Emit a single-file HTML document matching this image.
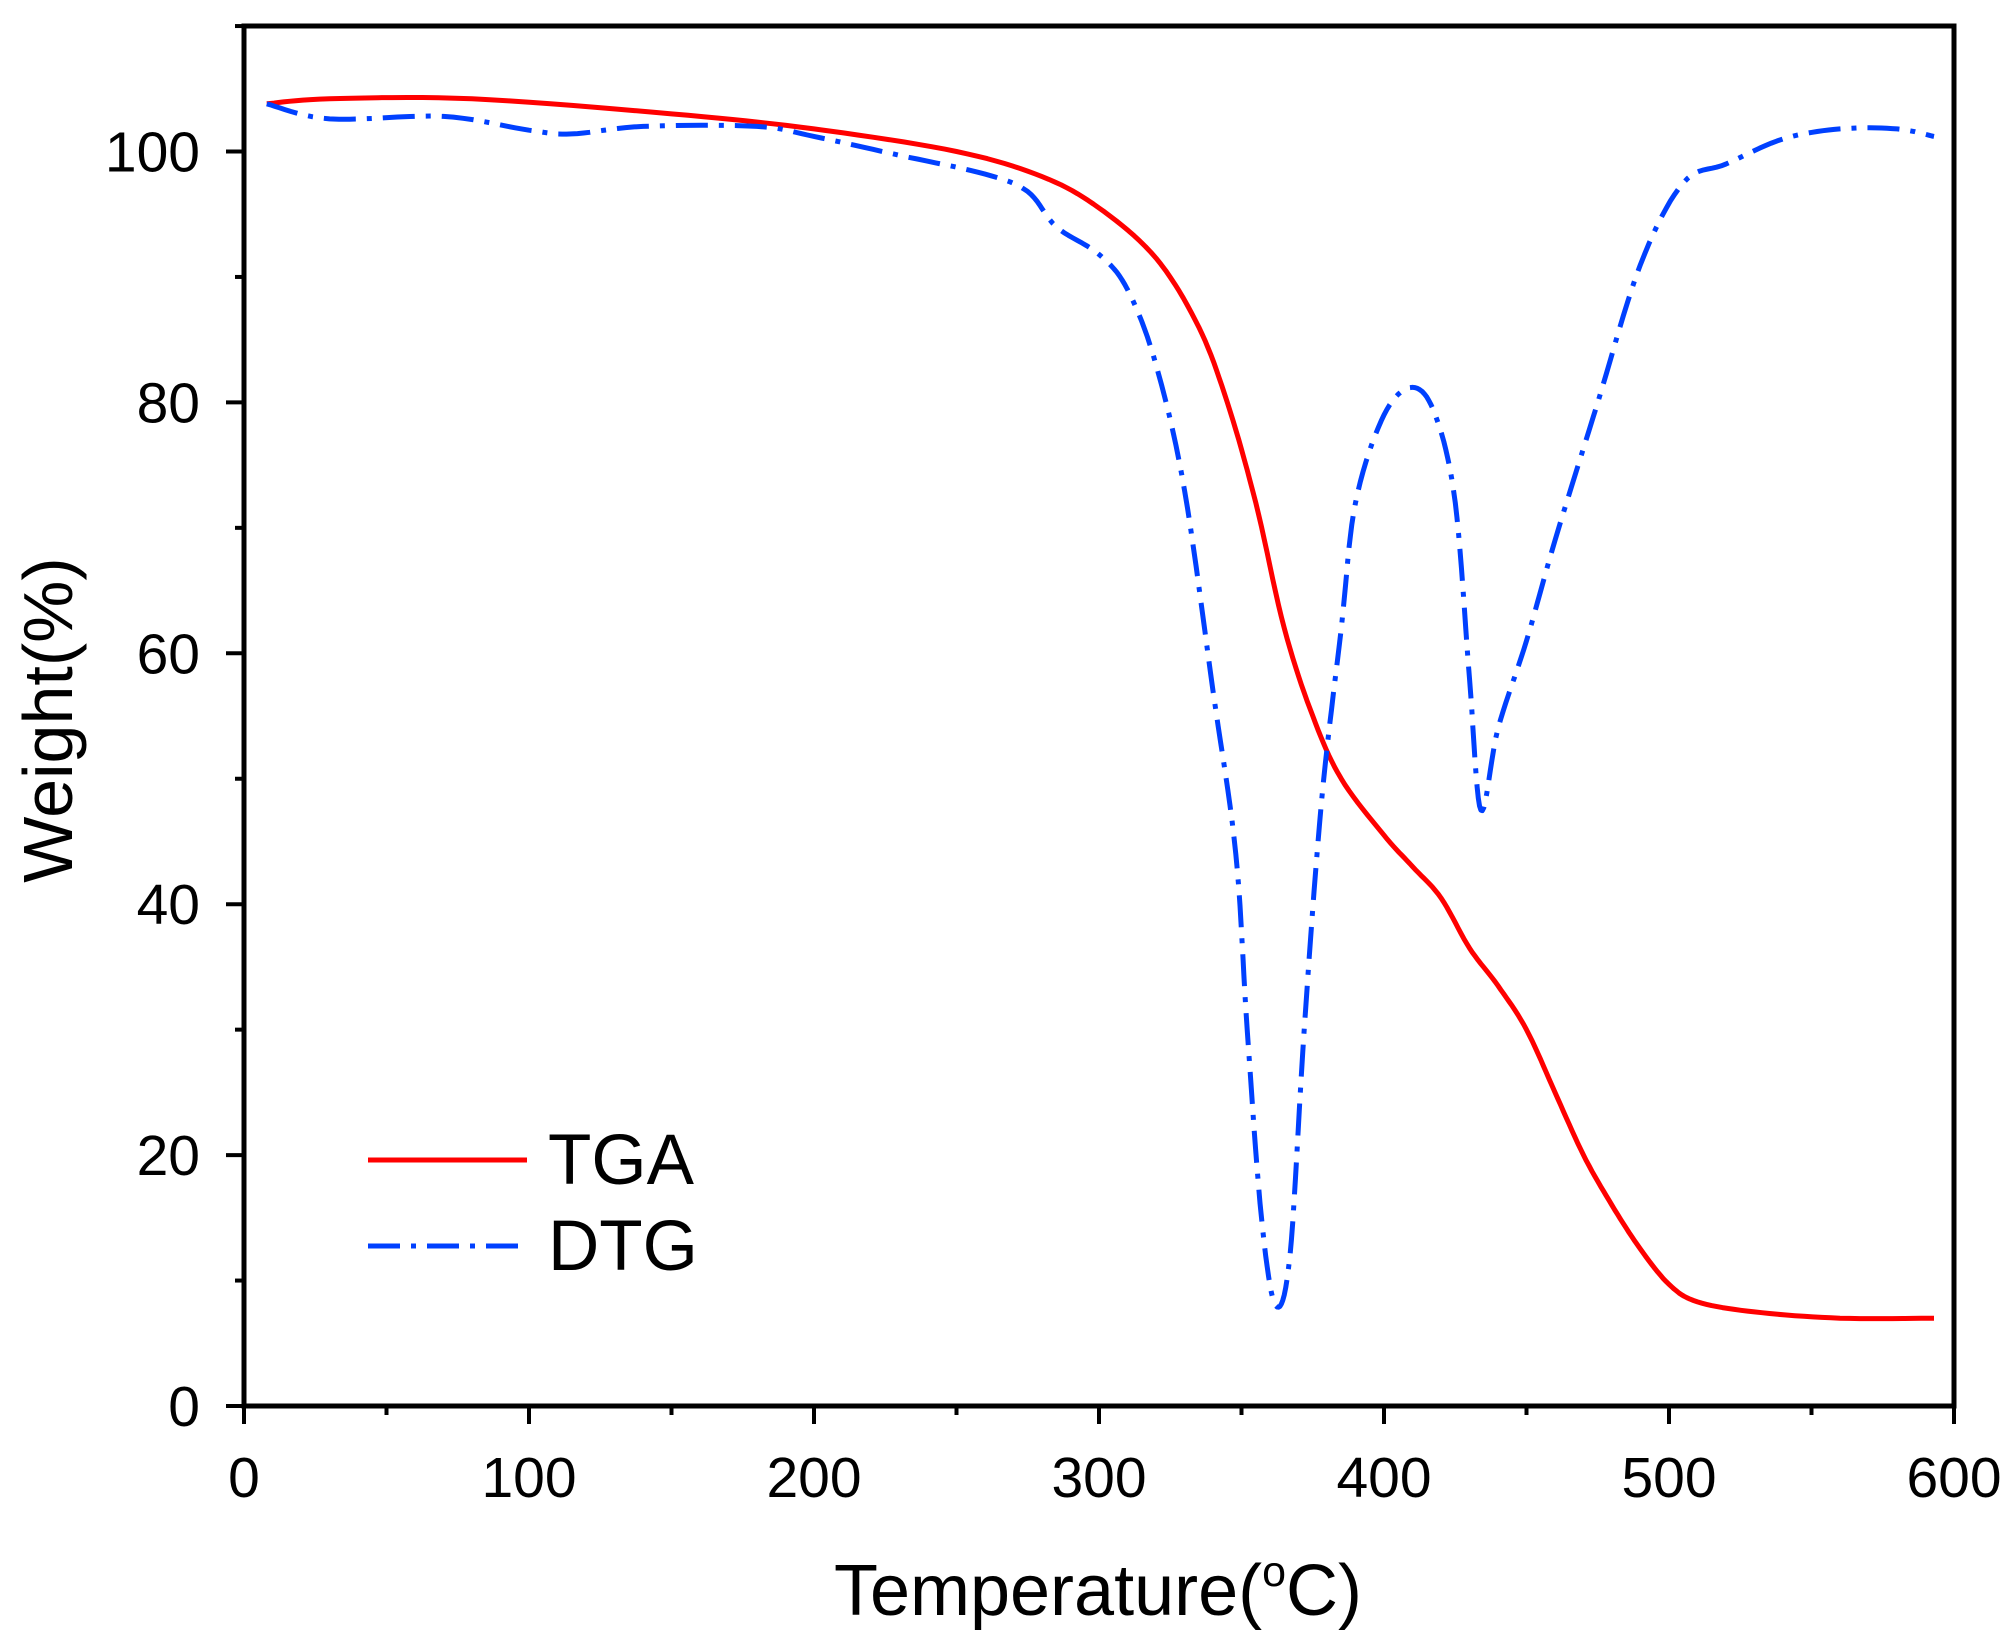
<!DOCTYPE html>
<html><head><meta charset="utf-8"><style>html,body{margin:0;padding:0;background:#fff}</style></head>
<body>
<svg width="2013" height="1646" viewBox="0 0 2013 1646" xmlns="http://www.w3.org/2000/svg" font-family="Liberation Sans, Arial, sans-serif">
<rect width="2013" height="1646" fill="#fff"/>
<g id="ticks" stroke="#000" stroke-width="4"></g>
<g id="labels" font-size="57" fill="#000"></g>
<polyline id="tga" fill="none" stroke="#f00" stroke-width="5" stroke-linejoin="round"/>
<polyline id="dtg" fill="none" stroke="#0040ff" stroke-width="5" stroke-dasharray="32 11 5 11" stroke-linejoin="round"/>
<rect x="244" y="26" width="1710" height="1380" fill="none" stroke="#000" stroke-width="5"/>
<line x1="368" y1="1160" x2="527" y2="1160" stroke="#f00" stroke-width="5"/>
<line x1="368" y1="1246" x2="527" y2="1246" stroke="#0040ff" stroke-width="5" stroke-dasharray="32 11 5 11"/>
<text x="548" y="1184" font-size="71">TGA</text>
<text x="548" y="1270" font-size="71">DTG</text>
<text x="1098" y="1615" font-size="72" text-anchor="middle">Temperature(<tspan font-size="43" dy="-29">o</tspan><tspan dy="29">C)</tspan></text>
<text transform="translate(72,720) rotate(-90)" font-size="70" text-anchor="middle">Weight(%)</text>
</svg>
<script>
const X=t=>244+t*1710/600, Y=v=>1406-v*12.545;
const tk=document.getElementById('ticks'), lb=document.getElementById('labels');
let s='',l='';
for(let t=0;t<=600;t+=50){const x=X(t);s+=`<line x1="${x}" y1="1406" x2="${x}" y2="${t%100?1415:1424}"/>`;if(t%100==0)l+=`<text x="${x}" y="1497" text-anchor="middle">${t}</text>`;}
for(let v=0;v<=110;v+=10){const y=Y(v);s+=`<line x1="244" y1="${y}" x2="${v%20?235:226}" y2="${y}"/>`;if(v%20==0)l+=`<text x="200" y="${y+20}" text-anchor="end">${v}</text>`;}
tk.innerHTML=s;lb.innerHTML=l;
const tga=[[8,103.8],[30,104.2],[80,104.2],[150,103],[200,101.8],[250,100],[280,98],[300,95.5],[320,91.5],[335,86],[345,80],[355,72],[365,62],[375,55],[385,50],[400,45.5],[410,43],[420,40.5],[430,36.5],[440,33.5],[450,30],[460,25],[470,20],[480,16],[490,12.5],[500,9.7],[510,8.3],[530,7.5],[560,7],[593,7]];
const dtg=[[8,103.8],[30,102.6],[70,102.8],[100,101.7],[115,101.4],[140,102],[180,102],[200,101.2],[230,99.7],[260,98.2],[275,96.8],[285,94],[300,91.8],[310,89],[320,83],[330,73],[340,57],[348,44],[352,30],[357,15],[362,8],[367,12],[372,30],[378,48],[385,62],[390,72],[400,79],[410,81.2],[418,79],[425,72],[430,58],[434,47.5],[440,54],[450,61],[460,69],[475,80],[490,91],[505,97.5],[520,99],[540,101],[560,101.8],[580,101.8],[593,101.2]];
function smooth(p){const o=[];for(let i=0;i<p.length-1;i++){const p0=p[Math.max(0,i-1)],p1=p[i],p2=p[i+1],p3=p[Math.min(p.length-1,i+2)];for(let k=0;k<10;k++){const u=k/10,u2=u*u,u3=u2*u;const f=(a,b,c,d)=>0.5*(2*b+(-a+c)*u+(2*a-5*b+4*c-d)*u2+(-a+3*b-3*c+d)*u3);o.push([f(p0[0],p1[0],p2[0],p3[0]),f(p0[1],p1[1],p2[1],p3[1])]);}}o.push(p[p.length-1]);return o.map(q=>X(q[0]).toFixed(1)+','+Y(q[1]).toFixed(1)).join(' ');}
document.getElementById('tga').setAttribute('points',smooth(tga));
document.getElementById('dtg').setAttribute('points',smooth(dtg));
</script>
</body></html>
